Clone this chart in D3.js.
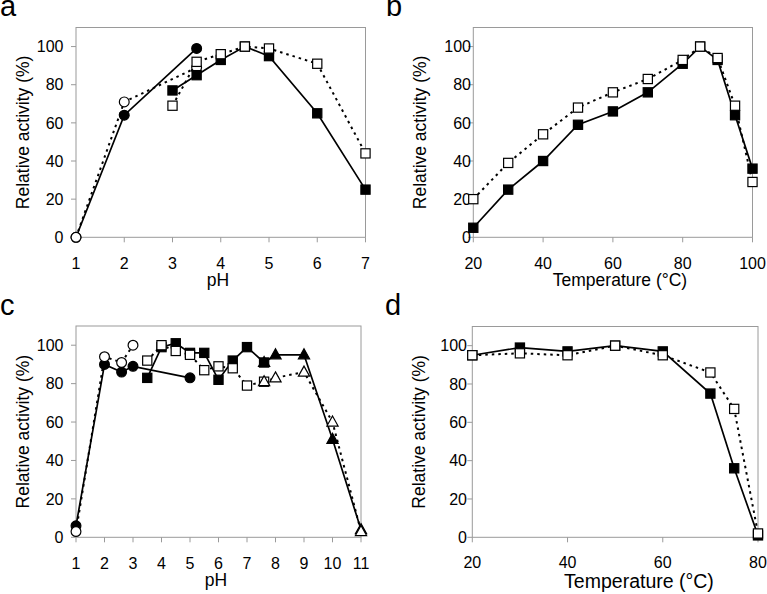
<!DOCTYPE html>
<html><head><meta charset="utf-8">
<script src="https://cdn.jsdelivr.net/npm/d3@7/dist/d3.min.js"></script>
<style>
body{margin:0;background:#fff}
svg{display:block}
text{font-family:"Liberation Sans",Arial,Helvetica,sans-serif;fill:#000}
</style>
</head><body>
<svg id="chart" width="767" height="594"></svg>
<script>
// ---------- data ----------
const yTicks = [0, 20, 40, 60, 80, 100];

// panel a (pH)
const aTicks = [1, 2, 3, 4, 5, 6, 7];
const aPH_circle = [1, 2, 3.5];
const a_filledCircle = [0, 64, 99];
const a_openCircle = [0, 71, 89];
const aPH_square = [3, 3.5, 4, 4.5, 5, 6, 7];
const a_filledSquare = [77, 85, 93, 100, 95, 65, 25];
const a_openSquare = [69, 92, 96, 100, 99, 91, 44];

// panel b (temperature)
const bTicks = [20, 40, 60, 80, 100];
const bTemp = [20, 30, 40, 50, 60, 70, 80, 85, 90, 95, 100];
const b_filledSquare = [5, 25, 40, 59, 66, 76, 91, 100, 93, 64, 36];
const b_openSquare = [20, 39, 54, 68, 76, 83, 93, 100, 94, 69, 29];

// panel c (pH)
const cTicks = [1, 2, 3, 4, 5, 6, 7, 8, 9, 10, 11];
const cPH_filledCircle = [1, 2, 2.6, 3, 5];
const c_filledCircle = [6, 90, 86, 89, 83];
const cPH_openCircle = [1, 2, 2.6, 3];
const c_openCircle = [3, 94, 91, 100];
const cPH_square = [3.5, 4, 4.5, 5, 5.5, 6, 6.5, 7, 7.6];
const c_filledSquare = [83, 99, 101, 96, 96, 82, 92, 99, 91];
const c_openSquare = [92, 100, 97, 95, 87, 89, 88, 79, 81];
const cPH_triangle = [7.6, 8, 9, 10, 11];
const c_filledTriangle = [91, 95, 95, 51, 4];
const c_openTriangle = [81, 83, 86, 60, 3];

// panel d (temperature)
const dTicks = [20, 40, 60, 80];
const dTemp = [20, 30, 40, 50, 60, 70, 75, 80];
const d_filledSquare = [95, 99, 97, 100, 97, 75, 36, 1];
const d_openSquare = [95, 96, 95, 100, 95, 86, 67, 2];

const yLabel = "Relative activity (%)";
const pHLabel = "pH";
const tempLabel = "Temperature (°C)";

// ---------- layout ----------
const panels = [
  {label: "a", lx: 0, ly: 16, L: 76, R: 365.5, T: 27.5, B: 237.3, xd: [1, 7], xt: aTicks,
   xTitle: pHLabel, xTitleX: 218, xTitleY: 286, xTitleFS: 17.5, tickLabY: 268.5, yLabRight: 63.5,
   series: [
     {x: aPH_circle, y: a_filledCircle, m: "circle", f: true, d: false},
     {x: aPH_circle, y: a_openCircle, m: "circle", f: false, d: true},
     {x: aPH_square, y: a_filledSquare, m: "square", f: true, d: false},
     {x: aPH_square, y: a_openSquare, m: "square", f: false, d: true}
   ]},
  {label: "b", lx: 386, ly: 16, L: 473.3, R: 752.5, T: 27.5, B: 237.3, xd: [20, 100], xt: bTicks,
   xTitle: tempLabel, xTitleX: 620, xTitleY: 286, xTitleFS: 17.5, tickLabY: 268.5, yLabRight: 471,
   series: [
     {x: bTemp, y: b_filledSquare, m: "square", f: true, d: false},
     {x: bTemp, y: b_openSquare, m: "square", f: false, d: true}
   ]},
  {label: "c", lx: 0, ly: 315, L: 76, R: 361, T: 326, B: 537.3, xd: [1, 11], xt: cTicks,
   xTitle: pHLabel, xTitleX: 216, xTitleY: 586, xTitleFS: 17.5, tickLabY: 568.5, yLabRight: 63.5,
   series: [
     {x: cPH_filledCircle, y: c_filledCircle, m: "circle", f: true, d: false},
     {x: cPH_openCircle, y: c_openCircle, m: "circle", f: false, d: true},
     {x: cPH_triangle, y: c_filledTriangle, m: "triangle", f: true, d: false},
     {x: cPH_square, y: c_filledSquare, m: "square", f: true, d: false},
     {x: cPH_square, y: c_openSquare, m: "square", f: false, d: true},
     {x: cPH_triangle, y: c_openTriangle, m: "triangle", f: false, d: true}
   ]},
  {label: "d", lx: 385, ly: 315, L: 472.3, R: 758, T: 326.5, B: 537.3, xd: [20, 80], xt: dTicks,
   xTitle: tempLabel, xTitleX: 639, xTitleY: 587.5, xTitleFS: 19.5, tickLabY: 568, yLabRight: 467,
   series: [
     {x: dTemp, y: d_filledSquare, m: "square", f: true, d: false},
     {x: dTemp, y: d_openSquare, m: "square", f: false, d: true}
   ]}
];

const svg = d3.select("#chart");
const gray = "#9a9a9a";
const FS = 16;
const TFS = 17.5;

panels.forEach(p => {
  const x = d3.scaleLinear().domain(p.xd).range([p.L, p.R]);
  const y = d3.scaleLinear().domain([0, 110]).range([p.B, p.T]);
  const g = svg.append("g");

  // panel letter
  g.append("text").attr("x", p.lx).attr("y", p.ly).attr("font-size", 29).text(p.label);

  // frame
  g.append("rect").attr("x", p.L).attr("y", p.T).attr("width", p.R - p.L).attr("height", p.B - p.T)
    .attr("fill", "none").attr("stroke", gray).attr("stroke-width", 1);

  // x axis ticks
  p.xt.forEach(t => {
    g.append("line").attr("x1", x(t)).attr("x2", x(t)).attr("y1", p.B).attr("y2", p.B + 5)
      .attr("stroke", gray).attr("stroke-width", 1);
    g.append("text").attr("x", x(t)).attr("y", p.tickLabY).attr("text-anchor", "middle")
      .attr("font-size", FS).text(t);
  });
  // y axis ticks
  yTicks.forEach(t => {
    g.append("line").attr("x1", p.L - 5).attr("x2", p.L).attr("y1", y(t)).attr("y2", y(t))
      .attr("stroke", gray).attr("stroke-width", 1);
    g.append("text").attr("x", p.yLabRight).attr("y", y(t)).attr("dy", "0.36em")
      .attr("text-anchor", "end").attr("font-size", FS).text(t);
  });

  // titles
  g.append("text").attr("x", p.xTitleX).attr("y", p.xTitleY).attr("text-anchor", "middle")
    .attr("font-size", p.xTitleFS).text(p.xTitle);
  const cy = (p.T + p.B) / 2;
  g.append("text").attr("transform", `translate(${p.L - 47},${cy}) rotate(-90)`)
    .attr("text-anchor", "middle").attr("font-size", TFS).text(yLabel);

  // series
  p.series.forEach(s => {
    const pts = s.x.map((xv, i) => [xv, s.y[i]]);
    const line = d3.line().x(d => x(d[0])).y(d => y(d[1]));
    g.append("path").attr("d", line(pts)).attr("fill", "none").attr("stroke", "#000")
      .attr("stroke-width", s.d ? 2 : 1.7)
      .attr("stroke-dasharray", s.d ? "2.5,4" : null);
    pts.forEach(d => {
      const cx = x(d[0]), cyy = y(d[1]);
      const fill = s.f ? "#000" : "#fff";
      let el;
      if (s.m === "square") {
        el = g.append("rect").attr("x", cx - 4.6).attr("y", cyy - 4.6).attr("width", 9.2).attr("height", 9.2);
      } else if (s.m === "circle") {
        el = g.append("circle").attr("cx", cx).attr("cy", cyy).attr("r", 4.9);
      } else {
        el = g.append("path").attr("d", `M${cx},${cyy - 6}L${cx + 5.6},${cyy + 4}L${cx - 5.6},${cyy + 4}Z`);
      }
      el.attr("fill", fill).attr("stroke", "#000").attr("stroke-width", 1.2);
    });
  });
});
</script>
</body></html>
